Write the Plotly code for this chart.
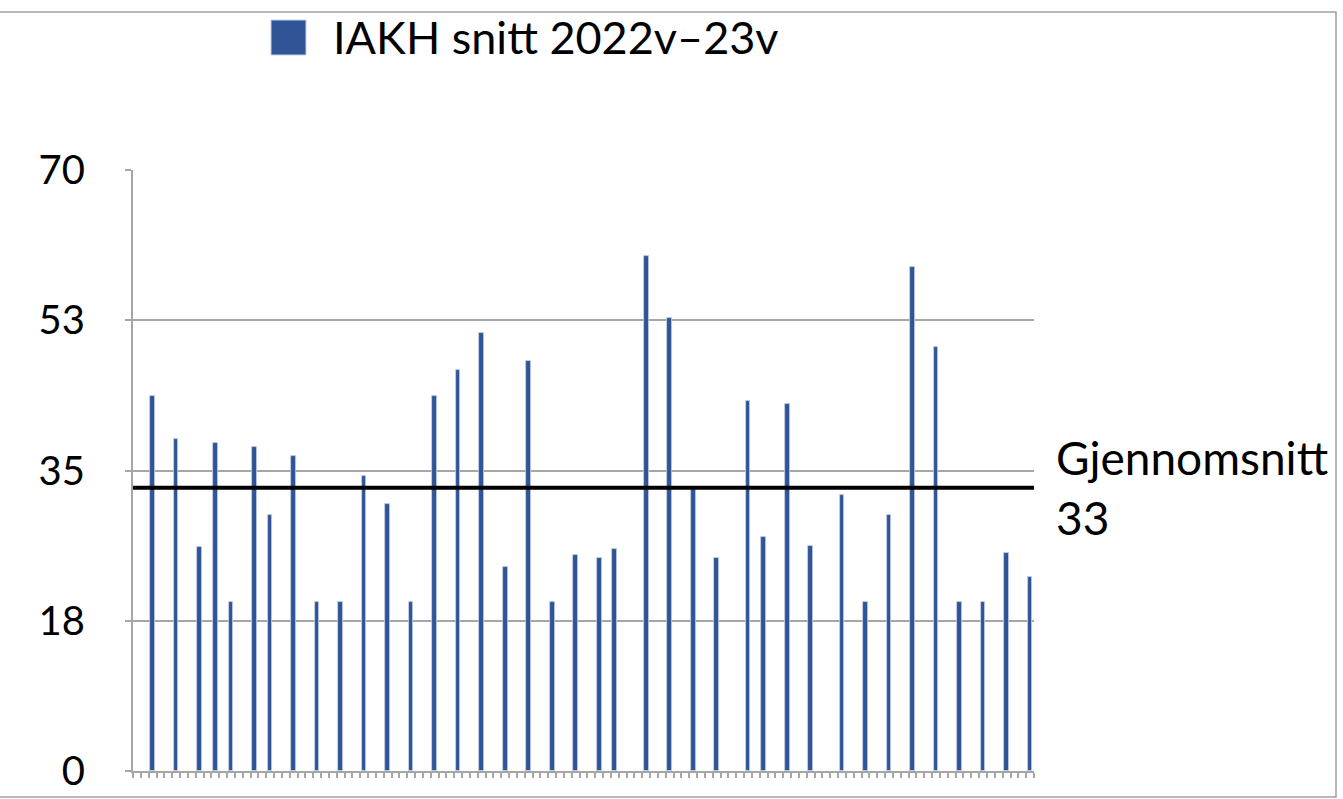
import plotly.graph_objects as go

# ---- data ----
n_categories = 115
bar_slots = [2, 5, 8, 10, 12, 15, 17, 20, 23, 26, 29, 32, 35, 38, 41, 44, 47, 50, 53, 56,
             59, 61, 65, 68, 71, 74, 78, 80, 83, 86, 90, 93, 96, 99, 102, 105, 108, 111, 114]
bar_values = [43.7, 38.7, 26.1, 38.2, 19.7, 37.7, 29.8, 36.7, 19.7, 19.7,
              34.4, 31.1, 19.7, 43.7, 46.7, 51.0, 23.8, 47.8, 19.7, 25.2,
              24.8, 25.8, 60.0, 52.8, 32.8, 24.8, 43.1, 27.3, 42.7, 26.2,
              32.1, 19.7, 29.8, 58.7, 49.4, 19.7, 19.7, 25.4, 22.6]
average_value = 33
y_tickvals = [0, 17.5, 35, 52.5, 70]
y_ticktext = ["0", "18", "35", "53", "70"]
series_name = "IAKH snitt 2022v\u201323v"
avg_label = "Gjennomsnitt<br>33"

BAR_COLOR = "#2F5597"
GRID = "#A6A6A6"
FONT = "Lato"

W, H = 1343, 799
L, R, T, B = 133, 1343 - 1034, 170, 799 - 771
pw, ph = W - L - R, H - T - B

def px_x(px):
    return (px - L) / pw

def px_y(py):
    return (H - B - py) / ph

fig = go.Figure()
fig.add_trace(go.Bar(
    x=bar_slots, y=bar_values, width=0.6, name=series_name,
    marker=dict(color=BAR_COLOR, line=dict(color="#c5d0e6", width=0.8)),
    showlegend=False,
))

fig.update_layout(
    width=W, height=H,
    margin=dict(l=L, r=R, t=T, b=B, pad=0, autoexpand=False),
    paper_bgcolor="white", plot_bgcolor="white",
    font=dict(family=FONT, color="black"),
    bargap=0,
    xaxis=dict(
        range=[-0.5, n_categories - 0.5],
        tickvals=[i - 0.5 for i in range(n_categories + 1)],
        showticklabels=False,
        ticks="outside", ticklen=5, tickwidth=2, tickcolor=GRID,
        showline=True, linecolor=GRID, linewidth=2,
        showgrid=False, zeroline=False, automargin=False,
    ),
    yaxis=dict(
        range=[0, 70],
        tickvals=y_tickvals, ticktext=y_ticktext,
        tickfont=dict(size=40, family=FONT, color="black"),
        ticks="outside", ticklen=6, tickwidth=2, tickcolor=GRID,
        ticklabelstandoff=32,
        showline=True, linecolor=GRID, linewidth=2,
        showgrid=True, gridcolor=GRID, gridwidth=2,
        zeroline=False, automargin=False,
    ),
)

# average line
fig.add_shape(type="line", xref="paper", x0=0, x1=1, yref="y",
              y0=average_value, y1=average_value,
              line=dict(color="black", width=4), layer="above")
fig.add_annotation(xref="paper", x=px_x(1054), yref="y", y=average_value,
                   text=avg_label, showarrow=False, xanchor="left", yanchor="middle",
                   align="left", font=dict(size=46, family=FONT, color="black"))

# legend (manual)
fig.add_shape(type="rect", xref="paper", yref="paper",
              x0=px_x(271), x1=px_x(306), y0=px_y(55), y1=px_y(20),
              fillcolor=BAR_COLOR, line=dict(color="#c5d0e6", width=1))
fig.add_annotation(xref="paper", yref="paper", x=px_x(331), y=px_y(37),
                   text=series_name, showarrow=False, xanchor="left", yanchor="middle",
                   font=dict(size=45, family=FONT, color="black"))

# chart frame
fig.add_shape(type="rect", xref="paper", yref="paper",
              x0=px_x(-3), x1=px_x(1336), y0=px_y(797), y1=px_y(12),
              line=dict(color="#A0A0A0", width=1.5), fillcolor="rgba(0,0,0,0)")

fig.write_html("out.html", config={"displayModeBar": False},
               post_script="document.body.style.margin='0';document.body.style.overflow='hidden';")
